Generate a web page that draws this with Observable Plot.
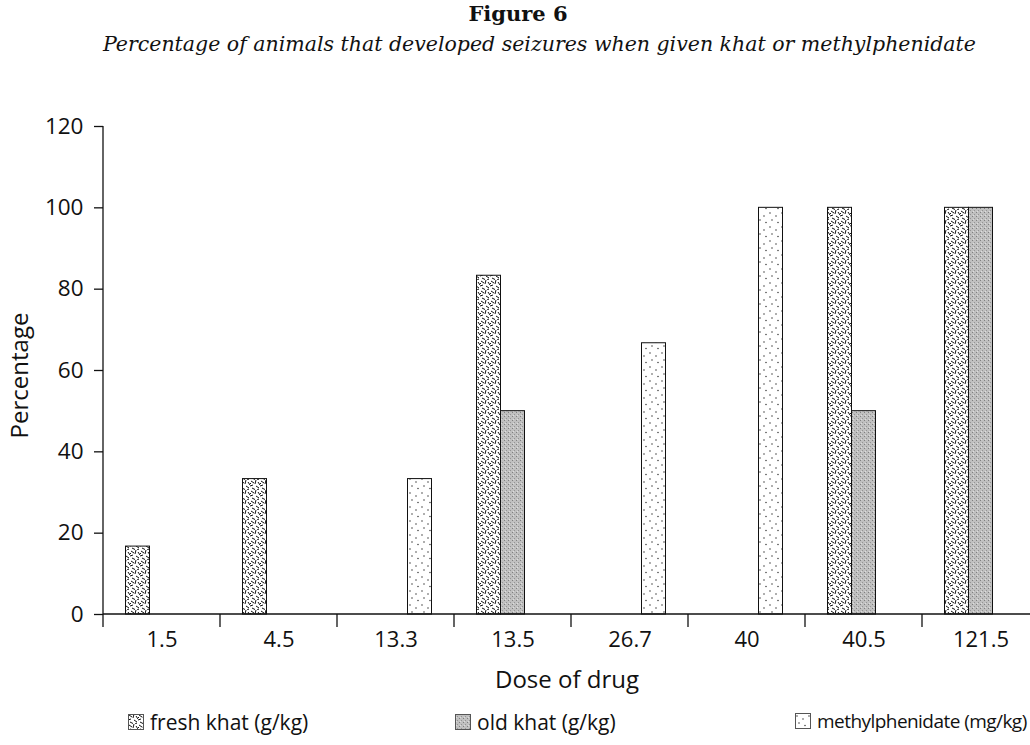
<!DOCTYPE html>
<html><head><meta charset="utf-8">
<script src="https://cdn.jsdelivr.net/npm/d3@7"></script>
<script src="https://cdn.jsdelivr.net/npm/@observablehq/plot@0.6"></script>
<style>
body{margin:0;background:#fff;}
#wrap{position:relative;width:1030px;height:745px;overflow:hidden;background:#fff;}
#title{position:absolute;top:1px;left:0;width:1036px;text-align:center;font-family:"DejaVu Serif",serif;font-weight:bold;font-size:21px;color:#111;}
#subtitle{position:absolute;top:32px;left:103px;font-family:"DejaVu Serif",serif;font-style:italic;font-size:20.5px;color:#111;white-space:nowrap;}
#chart{position:absolute;top:0;left:0;}
#legend{position:absolute;top:708px;left:0;width:1030px;height:30px;font-family:"Open Sans",sans-serif;font-size:21px;color:#111;}
.item{position:absolute;top:0;white-space:nowrap;display:flex;align-items:center;}
.item svg{margin-right:6px;}
</style></head>
<body><div id="wrap">
<svg width="0" height="0" style="position:absolute">
<defs>
<pattern id="pFresh" width="10" height="10" patternUnits="userSpaceOnUse">
<rect width="10" height="10" fill="#fff"/>
<path d="M1,1 L4,3 M6,0 L5,4 M8,2 L10,5 M0,6 L3,5 M2,8 L5,9.5 M6,6 L9,8 M7,10 L9,9 M0,3 L1,4" stroke="#111" stroke-width="1" fill="none"/>
</pattern>
<pattern id="pOld" width="4" height="4" patternUnits="userSpaceOnUse">
<rect width="4" height="4" fill="#c0c0c0"/>
<rect x="0" y="0" width="1" height="1" fill="#808080"/>
<rect x="2" y="2" width="1" height="1" fill="#949494"/>
<rect x="1" y="3" width="1" height="1" fill="#dedede"/>
</pattern>
<pattern id="pMeth" width="12" height="14" patternUnits="userSpaceOnUse">
<rect width="12" height="14" fill="#fff"/>
<circle cx="2" cy="3" r="0.7" fill="#222"/>
<circle cx="8" cy="6" r="0.7" fill="#222"/>
<circle cx="4" cy="10" r="0.7" fill="#222"/>
<circle cx="10" cy="12.5" r="0.7" fill="#222"/>
</pattern>
</defs></svg>
<div id="title">Figure 6</div>
<div id="subtitle">Percentage of animals that developed seizures when given khat or methylphenidate</div>
<div id="chart"></div>
<div id="legend"></div>
</div>
<script>
const doses = ["1.5","4.5","13.3","13.5","26.7","40","40.5","121.5"];
const series = ["fresh khat (g/kg)","old khat (g/kg)","methylphenidate (mg/kg)"];
const freshKhat = [16.7,33.3,0,83.3,0,0,100,100];
const oldKhat = [0,0,0,50,0,0,50,100];
const methylphenidate = [0,0,33.3,0,66.7,100,0,0];
const yTicks = [0,20,40,60,80,100,120];

const values = [freshKhat, oldKhat, methylphenidate];
const fills = ["url(#pFresh)","url(#pOld)","url(#pMeth)"];

const xRange = [103, 1039];
const bandW = (xRange[1]-xRange[0]) / doses.length;
const barW = 24;
const padL = (bandW - series.length*barW)/2;

const bars = series.map((s, j) => {
  const rows = doses.map((d, i) => ({dose: d, series: s, value: values[j][i]})).filter(r => r.value > 0);
  return Plot.barY(rows, {
    x: "dose", y: "value", fill: fills[j], stroke: "#111", strokeWidth: 1,
    insetLeft: padL + j*barW, insetRight: padL + (series.length-1-j)*barW
  });
});

const axisLines = (index, scales, vals, dims) => {
  const {x, y} = scales;
  const g = d3.create("svg:g").attr("stroke", "#111").attr("stroke-width", 1.3);
  const y0 = y(0);
  g.append("line").attr("x1", xRange[0]).attr("x2", dims.width).attr("y1", y0).attr("y2", y0);
  g.append("line").attr("x1", xRange[0]).attr("x2", xRange[0]).attr("y1", y(120)).attr("y2", y0 + 13);
  for (const d of doses.slice(1)) {
    const xx = x(d);
    g.append("line").attr("x1", xx).attr("x2", xx).attr("y1", y0).attr("y2", y0 + 13);
  }
  return g.node();
};

const chart = Plot.plot({
  width: 1030, height: 745,
  marginTop: 126, marginBottom: 131, marginLeft: 103, marginRight: 0,
  x: {domain: doses, range: xRange, paddingInner: 0, paddingOuter: 0, axis: null},
  y: {domain: [0, 120], axis: null},
  style: {fontFamily: "Open Sans, sans-serif", color: "#111", background: "transparent"},
  marks: [
    ...bars,
    axisLines,
    Plot.axisY({ticks: yTicks, tickSize: 9, tickPadding: 11, label: null, fontSize: 22.5, stroke: "#111", strokeWidth: 1.3}),
    Plot.axisX({tickSize: 0, tickPadding: 17, label: null, fontSize: 22}),
    Plot.text(["Dose of drug"], {frameAnchor: "bottom", textAnchor: "middle", lineAnchor: "middle", dy: 66, fontSize: 24}),
    Plot.text(["Percentage"], {frameAnchor: "left", textAnchor: "middle", lineAnchor: "middle", dx: -83, dy: 5, rotate: -90, fontSize: 24})
  ]
});
document.getElementById("chart").appendChild(chart);

const legendX = [128, 455, 795];
const legend = document.getElementById("legend");
series.forEach((s, j) => {
  const it = document.createElement("div");
  it.className = "item";
  it.style.left = legendX[j] + "px";
  if (j === 2) { it.style.fontSize = "19px"; it.style.letterSpacing = "-0.55px"; }
  it.innerHTML = `<svg width="16" height="16"><rect x="0.5" y="0.5" width="15" height="15" fill="${fills[j]}" stroke="#555" stroke-width="1"/></svg><span>${s}</span>`;
  legend.appendChild(it);
});
</script>
</body></html>
